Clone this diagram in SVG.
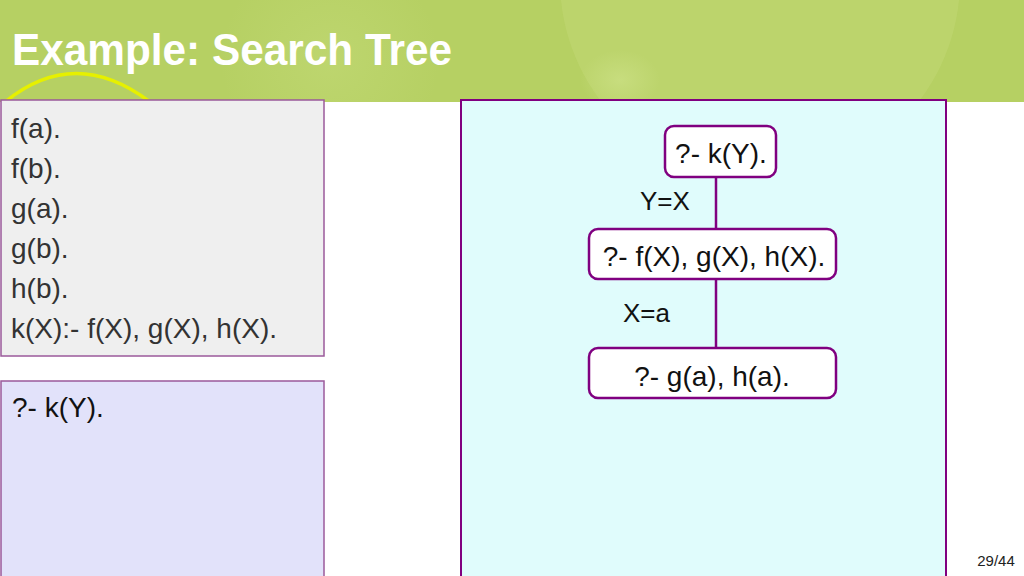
<svg xmlns="http://www.w3.org/2000/svg" width="1024" height="576" viewBox="0 0 1024 576">
<defs>
<style>
.t{font-family:"Liberation Sans",Arial,sans-serif;fill:#222}
.src{font-size:28px;fill:#333}
.node rect{fill:#ffffff;stroke:#800080;stroke-width:2.5}
.node text{font-family:"Liberation Sans",Arial,sans-serif;font-size:28px;fill:#111;text-anchor:middle}
.edge{stroke:#800080;stroke-width:2.5;fill:none}
.lbl{font-family:"Liberation Sans",Arial,sans-serif;font-size:26px;fill:#111}
</style>
<radialGradient id="glow" cx="0.5" cy="0.5" r="0.5">
<stop offset="0" stop-color="#cfe38a" stop-opacity="0.6"/>
<stop offset="1" stop-color="#cfe38a" stop-opacity="0"/>
</radialGradient>
<clipPath id="hdr"><rect x="0" y="0" width="1024" height="102"/></clipPath>
</defs>
<rect x="0" y="0" width="1024" height="576" fill="#ffffff"/>
<g id="header">
<rect x="0" y="0" width="1024" height="102" fill="#b6d063"/>
<g clip-path="url(#hdr)">
<circle cx="760" cy="-20" r="200" fill="#bfd670" opacity="0.7"/>
<ellipse cx="620" cy="80" rx="40" ry="30" fill="url(#glow)"/>
<circle cx="330" cy="60" r="110" fill="url(#glow)" opacity="0.5"/>
<path d="M5,102 Q75,45 150,102" fill="none" stroke="#e6f000" stroke-width="3.5"/>
</g>
<text x="12" y="65" font-family="Liberation Sans,Arial,sans-serif" font-weight="bold" font-size="44" fill="#ffffff" textLength="440" lengthAdjust="spacingAndGlyphs">Example: Search Tree</text>
</g>
<g id="program">
<rect x="1" y="100" width="323" height="256" fill="#efefef" stroke="#9b5a9b" stroke-width="1.5"/>
<text class="t src" x="11" y="138">f(a).</text>
<text class="t src" x="11" y="178">f(b).</text>
<text class="t src" x="11" y="218">g(a).</text>
<text class="t src" x="11" y="258">g(b).</text>
<text class="t src" x="11" y="298">h(b).</text>
<text class="t src" x="11" y="338">k(X):- f(X), g(X), h(X).</text>
</g>
<g id="query">
<rect x="1" y="381" width="323" height="196" fill="#e2e2fa" stroke="#9b5a9b" stroke-width="1.5"/>
<text class="t src" x="12" y="417" style="fill:#111">?- k(Y).</text>
</g>
<g id="treepanel">
<rect x="461" y="100" width="485" height="477" fill="#e0fcfc" stroke="#800080" stroke-width="2"/>
</g>
<g id="connectors">
<line class="edge" x1="716" y1="177" x2="716" y2="229"/>
<line class="edge" x1="716" y1="279" x2="716" y2="348"/>
<text class="lbl" x="640" y="210">Y=X</text>
<text class="lbl" x="623" y="322">X=a</text>
</g>
<g id="n1" class="node">
<rect x="665" y="126" width="111" height="51" rx="9"/>
<text x="721" y="163">?- k(Y).</text>
</g>
<g id="n2" class="node">
<rect x="589" y="229" width="247" height="50" rx="9"/>
<text x="714" y="266">?- f(X), g(X), h(X).</text>
</g>
<g id="n3" class="node">
<rect x="589" y="348" width="247" height="50" rx="9"/>
<text x="712" y="386">?- g(a), h(a).</text>
</g>
<text x="996" y="566" font-family="Liberation Sans,Arial,sans-serif" font-size="15" fill="#222" text-anchor="middle">29/44</text>
</svg>
